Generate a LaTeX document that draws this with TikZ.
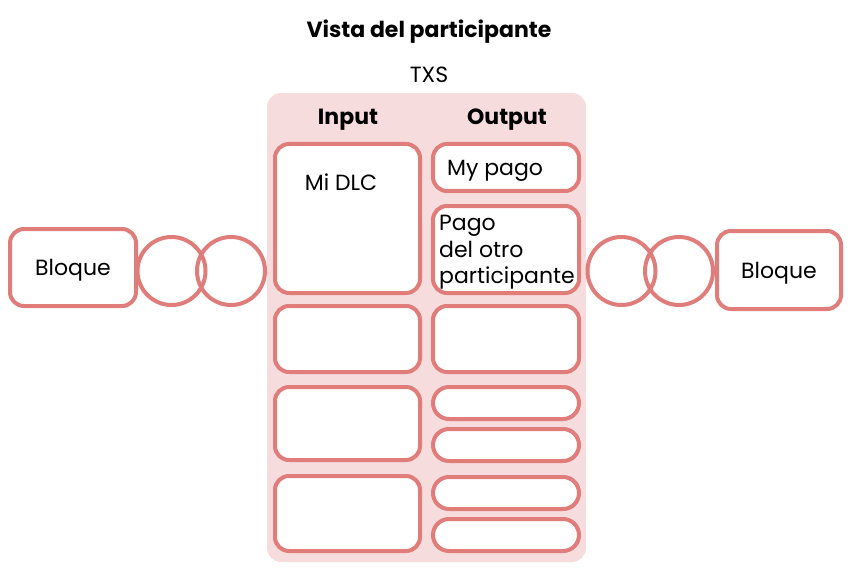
\documentclass[tikz,border=0pt]{standalone}
\usepackage{fontspec}
\setmainfont{Poppins}
\usetikzlibrary{positioning}
\definecolor{penColor}{HTML}{E07C79}
\definecolor{bgColor}{HTML}{F6DCDC}
\tikzset{
	box/.style={draw=penColor, line width=4pt, fill=white, rounded corners=14pt},
	pill/.style={box, rounded corners=16pt},
	ring/.style={draw=penColor, line width=4pt, circle, minimum size=68pt, inner sep=0pt},
	txt/.style={font=\fontsize{22}{26.5}\selectfont, inner sep=0pt},
	head/.style={font=\fontsize{22}{26.5}\selectfont\bfseries, inner sep=0pt}
}
\begin{document}
\begin{tikzpicture}[x=1pt,y=-1pt]
				\useasboundingbox (0,0) rectangle (856,580);
				\fill[bgColor, rounded corners=14pt] (267,93) rectangle (586,562);
				\node[head] (title) at (429,32) {Vista del participante};
				\node[txt] (txs) at (429,75) {TXS};
				\node[head] (input) at (348,120) {Input};
				\node[head] (output) at (507,120) {Output};
				% input column
				\node[box, minimum width=145pt, minimum height=149pt] (in1) at (347.5,218.5) {};
				\node[box, minimum width=145pt, minimum height=66pt] (in2) at (347.5,339) {};
				\node[box, minimum width=145pt, minimum height=73pt] (in3) at (347.5,423.5) {};
				\node[box, minimum width=145pt, minimum height=75pt] (in4) at (347.5,513.5) {};
				\node[txt] (midlc) at (341,182) {Mi DLC};
				% output column
				\node[box, minimum width=146pt, minimum height=47pt] (out1) at (506,167.5) {};
				\node[box, minimum width=146pt, minimum height=87pt] (out2) at (506,249.5) {};
				\node[box, minimum width=146pt, minimum height=66pt] (out3) at (506,339) {};
				\node[pill, minimum width=146pt, minimum height=32pt] (out4) at (506,403) {};
				\node[pill, minimum width=146pt, minimum height=32pt] (out5) at (506,445) {};
				\node[pill, minimum width=146pt, minimum height=32pt] (out6) at (506,493) {};
				\node[pill, minimum width=146pt, minimum height=32pt] (out7) at (506,535) {};
				\node[txt] (mypago) at (495,171) {My pago};
				\node[txt, anchor=west, align=left] (otropago) at (439,252.5) {Pago\\del otro\\participante};
				% bloques
				\node[box, minimum width=126pt, minimum height=77pt] (bloqueL) at (73,267.5) {};
				\node[txt] at ([yshift=-3pt]bloqueL) {Bloque};
				\node[ring] (ringL1) at (171.5,271) {};
				\node[ring] (ringL2) at (231,271) {};
				\node[ring] (ringR1) at (621.5,271) {};
				\node[ring] (ringR2) at (679,271) {};
				\node[box, minimum width=124pt, minimum height=78pt] (bloqueR) at (779,270) {};
				\node[txt] at ([yshift=-3pt]bloqueR) {Bloque};
\end{tikzpicture}
\end{document}
